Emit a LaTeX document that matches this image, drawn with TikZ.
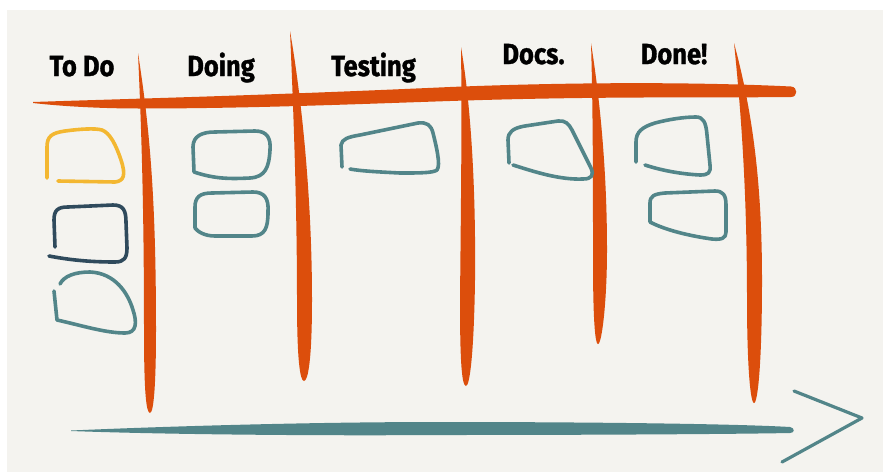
\documentclass[tikz,border=0pt]{standalone}
\usepackage{fontspec}
\usepackage{graphicx}
\setmainfont{Fira Sans}
\definecolor{bgpaper}{HTML}{F4F3EF}
\definecolor{kanorange}{HTML}{DC4E0C}
\definecolor{kanteal}{HTML}{528589}
\definecolor{kanyellow}{HTML}{F3B731}
\definecolor{kandark}{HTML}{2F4A5C}
\tikzset{
  card/.style={line width=3.6pt, line cap=round, line join=round},
  head/.style={anchor=base, inner sep=0pt, font=\fontsize{29}{30}\selectfont\bfseries\addfontfeatures{FakeBold=1.2}},
  bar/.style={fill=kanorange}
}
\newcommand{\hlab}[1]{\scalebox{0.88}[1]{#1}}
\begin{document}
\begin{tikzpicture}[x=1pt,y=-1pt]
\useasboundingbox (0,0) rectangle (883,472);
\fill[white] (0,0) rectangle (883,472);
\fill[bgpaper] (7,10) rectangle (883,472);

% header labels
\node[head] (todo) at (82,76) {\hlab{To Do}};
\node[head] (doing) at (221,76) {\hlab{Doing}};
\node[head] (testing) at (373.5,76) {\hlab{Testing}};
\node[head] (docs) at (533.5,64) {\hlab{Docs.}};
\node[head] (done) at (674,64) {\hlab{Done!}};

% horizontal orange bar
\fill[bar] (33,102) .. controls (120,99) and (250,96) .. (450,87)
  .. controls (600,81) and (720,83) .. (791,86.5)
  .. controls (798,87) and (798,97) .. (791,97)
  .. controls (700,98) and (600,96) .. (450,101)
  .. controls (360,104) and (250,108.5) .. (140,108.5)
  .. controls (90,108.5) and (50,105) .. (33,103) -- cycle;

% vertical orange lines
\fill[bar] (138,53) .. controls (150,130) and (156,200) .. (156,330)
  .. controls (156,380) and (154,413) .. (150,413)
  .. controls (146,413) and (144,390) .. (144,330)
  .. controls (144,200) and (141,120) .. (138,53) -- cycle;
\fill[bar] (290,31) .. controls (302,100) and (312,200) .. (312,300)
  .. controls (312,360) and (308,381) .. (304,381)
  .. controls (300,381) and (297,360) .. (297,300)
  .. controls (297,200) and (293,100) .. (290,31) -- cycle;
\fill[bar] (461,47) .. controls (470,100) and (476,180) .. (475,280)
  .. controls (474,350) and (470,386) .. (466,386)
  .. controls (461,386) and (460,350) .. (460,300)
  .. controls (461,200) and (462,120) .. (461,47) -- cycle;
\fill[bar] (591,43) .. controls (600,100) and (607,170) .. (607,250)
  .. controls (607,300) and (602,344) .. (598,344)
  .. controls (594,344) and (593,300) .. (593,260)
  .. controls (593,180) and (593,110) .. (591,43) -- cycle;
\fill[bar] (734,43) .. controls (752,110) and (762,180) .. (762,280)
  .. controls (762,360) and (758,403) .. (754,403)
  .. controls (750,403) and (747,360) .. (747,300)
  .. controls (747,200) and (742,120) .. (734,43) -- cycle;

% To Do cards
\draw[card, kanyellow] (47,178) -- (47,147) .. controls (47,136) and (52,133) .. (65,131)
  .. controls (80,129) and (95,128) .. (102,130)
  .. controls (110,133) and (116,145) .. (121,160)
  .. controls (126,175) and (124,181) .. (115,182) -- (58,181);
\draw[card, kandark] (55,247) -- (54,220) .. controls (54,210) and (58,207) .. (68,207)
  -- (113,205) .. controls (123,205) and (126,210) .. (126,222)
  -- (127,248) .. controls (127,258) and (124,262) .. (115,262)
  .. controls (90,262) and (70,260) .. (49,256);
\draw[card, kanteal] (54,291) -- (57,320) .. controls (80,325) and (105,333) .. (125,333)
  .. controls (137,333) and (137,322) .. (133,310)
  .. controls (128,293) and (115,273) .. (90,272)
  .. controls (75,272) and (64,276) .. (60,284);

% Doing cards
\draw[card, kanteal] (194,172) -- (193,147) .. controls (193,136) and (202,132) .. (215,132)
  -- (255,131) .. controls (267,131) and (271,138) .. (270,150)
  .. controls (269,168) and (265,177) .. (250,178)
  .. controls (230,179) and (215,179) .. (194,172);
\draw[card, kanteal] (195,228) -- (195,207) .. controls (195,197) and (200,193) .. (212,193)
  -- (253,192) .. controls (264,192) and (269,198) .. (268,212)
  .. controls (268,228) and (265,236) .. (252,236)
  -- (215,236) .. controls (205,236) and (198,232) .. (195,228);

% Testing card
\draw[card, kanteal] (342,167) -- (341,145) .. controls (342,139) and (348,137) .. (360,135)
  -- (418,123) .. controls (427,122) and (431,125) .. (433,133)
  .. controls (436,145) and (441,165) .. (437,170)
  .. controls (433,173) and (420,173) .. (400,173)
  .. controls (380,172) and (360,171) .. (350,169);

% Docs card
\draw[card, kanteal] (509,163) -- (508,140) .. controls (508,132) and (513,128) .. (525,126)
  -- (558,121) .. controls (565,120) and (569,124) .. (572,130)
  -- (591,168) .. controls (594,175) and (592,179) .. (583,179)
  .. controls (560,180) and (535,172) .. (513,165);

% Done cards
\draw[card, kanteal] (636,162) -- (636,142) .. controls (636,132) and (642,127) .. (655,123)
  .. controls (670,119) and (685,117) .. (696,117)
  .. controls (703,117) and (706,122) .. (707,135)
  -- (710,165) .. controls (711,173) and (708,175) .. (700,175)
  .. controls (680,174) and (660,170) .. (645,165);
\draw[card, kanteal] (650,222) -- (650,203) .. controls (650,196) and (654,194) .. (665,193)
  -- (715,191) .. controls (723,191) and (726,195) .. (726,205)
  -- (726,232) .. controls (726,238) and (722,240) .. (712,239)
  .. controls (690,236) and (665,230) .. (650,222);

% bottom arrow
\coordinate (shaftstart) at (71,430.5);
\coordinate (headtop) at (794,391);
\coordinate (headtip) at (862,418);
\coordinate (headbot) at (782,462);
\fill[kanteal] (shaftstart) .. controls (150,427) and (300,422) .. (440,422)
  .. controls (600,422) and (740,424) .. (790,427)
  .. controls (795,428) and (795,433) .. (790,433)
  .. controls (740,434) and (600,435) .. (440,435)
  .. controls (300,436) and (150,434) .. (71,431) -- cycle;
\draw[kanteal, line width=3.2pt, line cap=round, line join=round] (headtop) -- (headtip) -- (headbot);
\end{tikzpicture}
\end{document}
